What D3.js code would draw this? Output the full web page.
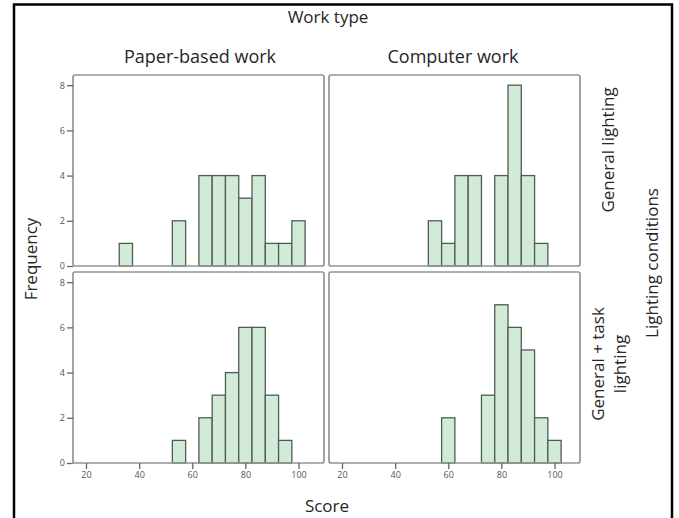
<!DOCTYPE html>
<html>
<head>
<meta charset="utf-8">
<script src="https://cdn.jsdelivr.net/npm/d3@7"></script>
<style>
  html, body { margin: 0; padding: 0; background: #fff; }
  svg { display: block; }
  text { font-family: "Open Sans", "Noto Sans", sans-serif; fill: #262626; }
</style>
</head>
<body>
<svg id="chart" width="679" height="518"></svg>
<script>
// Score bins (bin centres, width 5) and frequencies per panel
const scoreBins = [35, 40, 45, 50, 55, 60, 65, 70, 75, 80, 85, 90, 95, 100];
const paperGeneral    = [1, 0, 0, 0, 2, 0, 4, 4, 4, 3, 4, 1, 1, 2];
const computerGeneral = [0, 0, 0, 0, 2, 1, 4, 4, 0, 4, 8, 4, 1, 0];
const paperTask       = [0, 0, 0, 0, 1, 0, 2, 3, 4, 6, 6, 3, 1, 0];
const computerTask    = [0, 0, 0, 0, 0, 2, 0, 0, 3, 7, 6, 5, 2, 1];

const workTypes = ["Paper-based work", "Computer work"];
const lightingConditions = ["General lighting", "General + task lighting"];
const xTicks = [20, 40, 60, 80, 100];
const yTicks = [0, 2, 4, 6, 8];
const binWidth = 5;

const panels = [
  { row: 0, col: 0, counts: paperGeneral },
  { row: 0, col: 1, counts: computerGeneral },
  { row: 1, col: 0, counts: paperTask },
  { row: 1, col: 1, counts: computerTask }
];

const svg = d3.select("#chart");

// outer frame
svg.append("rect")
  .attr("x", 14).attr("y", 4.5)
  .attr("width", 658).attr("height", 530)
  .attr("fill", "none").attr("stroke", "#000").attr("stroke-width", 2.5);

const colX = [73, 329];
const rowY = [75, 272];
const panelW = 251, panelH = 191;

const x = d3.scaleLinear().domain([15.1, 109.6]).range([0, panelW]);
const y = d3.scaleLinear().domain([0, 8.45]).range([panelH, 0]);

panels.forEach(p => {
  const g = svg.append("g")
    .attr("transform", `translate(${colX[p.col]},${rowY[p.row]})`);

  // bars
  g.selectAll("rect.bar")
    .data(scoreBins.map((s, i) => ({ s, c: p.counts[i] })).filter(d => d.c > 0))
    .join("rect")
    .attr("class", "bar")
    .attr("x", d => x(d.s - binWidth / 2))
    .attr("width", d => x(d.s + binWidth / 2) - x(d.s - binWidth / 2))
    .attr("y", d => y(d.c))
    .attr("height", d => y(0) - y(d.c))
    .attr("fill", "#d2ebd8")
    .attr("stroke", "#4e5d52")
    .attr("stroke-width", 1.3);

  // panel border
  g.append("rect")
    .attr("x", 0).attr("y", 0)
    .attr("width", panelW).attr("height", panelH)
    .attr("rx", 2)
    .attr("fill", "none").attr("stroke", "#959595").attr("stroke-width", 1.7);

  // y axis on the left column
  if (p.col === 0) {
    const ya = g.append("g")
      .call(d3.axisLeft(y).tickValues(yTicks).tickSize(6).tickPadding(2));
    ya.select(".domain").remove();
    ya.selectAll(".tick line").attr("stroke", "#666").attr("stroke-width", 1.3);
    ya.selectAll(".tick text")
      .style("font-size", "9px").style("fill", "#555")
      .style("font-family", "'Open Sans', sans-serif");
  }

  // x axis on the bottom row
  if (p.row === 1) {
    const xa = g.append("g")
      .attr("transform", `translate(0,${panelH})`)
      .call(d3.axisBottom(x).tickValues(xTicks).tickSize(6).tickPadding(3));
    xa.select(".domain").remove();
    xa.selectAll(".tick line").attr("stroke", "#666").attr("stroke-width", 1.3);
    xa.selectAll(".tick text")
      .style("font-size", "9px").style("fill", "#555")
      .style("font-family", "'Open Sans', sans-serif");
  }
});

// titles
const fs = "17px";
svg.append("text").attr("x", 328).attr("y", 23)
  .attr("text-anchor", "middle").style("font-size", fs).text("Work type");

workTypes.forEach((t, i) => {
  svg.append("text")
    .attr("x", i === 0 ? 200 : 453).attr("y", 63)
    .attr("text-anchor", "middle").style("font-size", "18px").text(t);
});

svg.append("text").attr("x", 327).attr("y", 512)
  .attr("text-anchor", "middle").style("font-size", fs).text("Score");

svg.append("text")
  .attr("transform", "translate(37,259) rotate(-90)")
  .attr("text-anchor", "middle").style("font-size", fs).text("Frequency");

// row labels
svg.append("text")
  .attr("transform", "translate(614,150) rotate(-90)")
  .attr("text-anchor", "middle").style("font-size", fs).text(lightingConditions[0]);

const taskLines = ["General + task", "lighting"];
taskLines.forEach((t, i) => {
  svg.append("text")
    .attr("transform", `translate(${604 + i * 22},364) rotate(-90)`)
    .attr("text-anchor", "middle").style("font-size", fs).text(t);
});

svg.append("text")
  .attr("transform", "translate(658,263) rotate(-90)")
  .attr("text-anchor", "middle").style("font-size", fs).text("Lighting conditions");
</script>
</body>
</html>
